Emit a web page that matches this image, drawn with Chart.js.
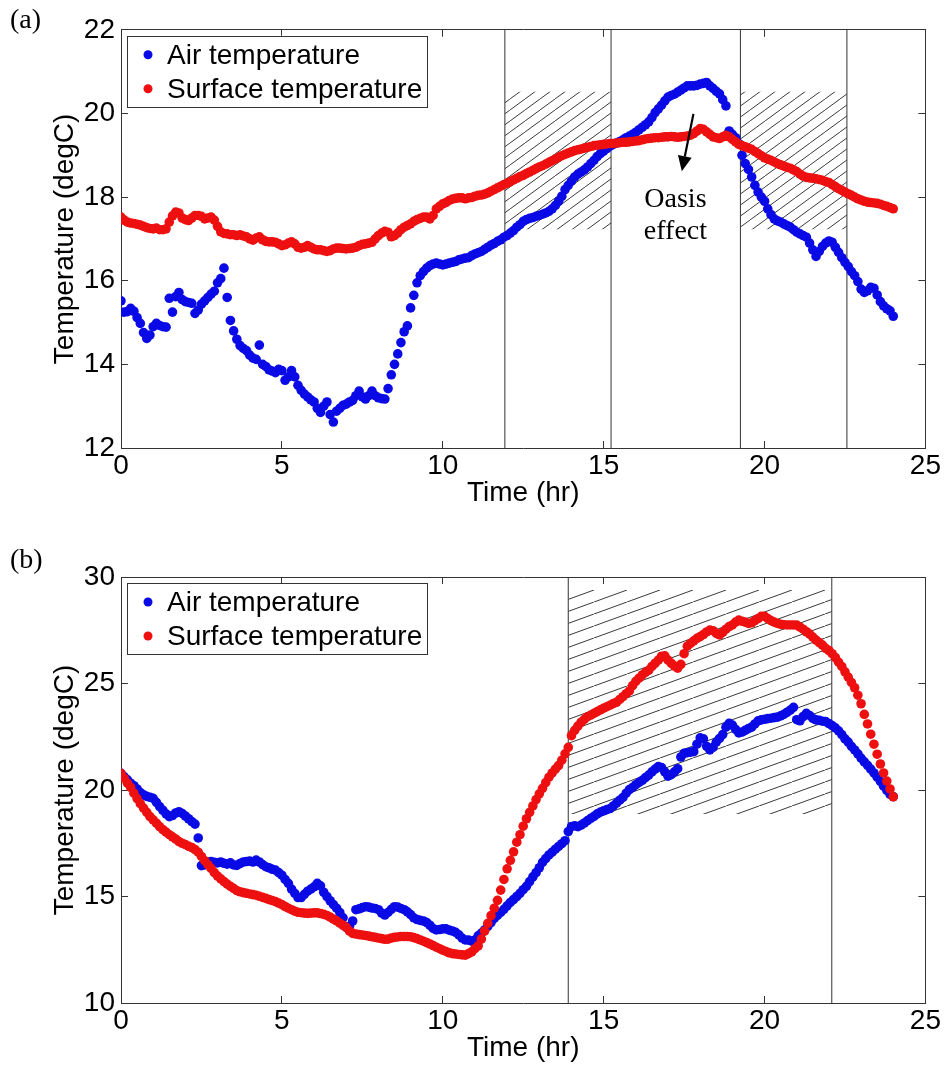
<!DOCTYPE html>
<html lang="en">
<head>
<meta charset="utf-8">
<title>Air and surface temperature</title>
<script src="https://cdn.jsdelivr.net/npm/chart.js@4.4.1/dist/chart.umd.min.js"></script>
<style>
    html, body { margin: 0; padding: 0; background: #fff; overflow: hidden; }
    .panel { position: absolute; left: 0; width: 949px; }
    #panelA { top: 0; height: 530px; }
    #panelB { top: 530px; height: 535px; }
</style>
</head>
<body>
<div class="panel" id="panelA"><canvas id="chartA"></canvas></div>
<div class="panel" id="panelB"><canvas id="chartB"></canvas></div>
<script>
// sample times (hr), shared by both panels
const hours = [
    0, 0.1, 0.2, 0.3, 0.4, 0.5, 0.6, 0.7, 0.8, 0.9,
    1, 1.1, 1.2, 1.3, 1.4, 1.5, 1.6, 1.7, 1.8, 1.9,
    2, 2.1, 2.2, 2.3, 2.4, 2.5, 2.6, 2.7, 2.8, 2.9,
    3, 3.1, 3.2, 3.3, 3.4, 3.5, 3.6, 3.7, 3.8, 3.9,
    4, 4.1, 4.2, 4.3, 4.4, 4.5, 4.6, 4.7, 4.8, 4.9,
    5, 5.1, 5.2, 5.3, 5.4, 5.5, 5.6, 5.7, 5.8, 5.9,
    6, 6.1, 6.2, 6.3, 6.4, 6.5, 6.6, 6.7, 6.8, 6.9,
    7, 7.1, 7.2, 7.3, 7.4, 7.5, 7.6, 7.7, 7.8, 7.9,
    8, 8.1, 8.2, 8.3, 8.4, 8.5, 8.6, 8.7, 8.8, 8.9,
    9, 9.1, 9.2, 9.3, 9.4, 9.5, 9.6, 9.7, 9.8, 9.9,
    10, 10.1, 10.2, 10.3, 10.4, 10.5, 10.6, 10.7, 10.8, 10.9,
    11, 11.1, 11.2, 11.3, 11.4, 11.5, 11.6, 11.7, 11.8, 11.9,
    12, 12.1, 12.2, 12.3, 12.4, 12.5, 12.6, 12.7, 12.8, 12.9,
    13, 13.1, 13.2, 13.3, 13.4, 13.5, 13.6, 13.7, 13.8, 13.9,
    14, 14.1, 14.2, 14.3, 14.4, 14.5, 14.6, 14.7, 14.8, 14.9,
    15, 15.1, 15.2, 15.3, 15.4, 15.5, 15.6, 15.7, 15.8, 15.9,
    16, 16.1, 16.2, 16.3, 16.4, 16.5, 16.6, 16.7, 16.8, 16.9,
    17, 17.1, 17.2, 17.3, 17.4, 17.5, 17.6, 17.7, 17.8, 17.9,
    18, 18.1, 18.2, 18.3, 18.4, 18.5, 18.6, 18.7, 18.8, 18.9,
    19, 19.1, 19.2, 19.3, 19.4, 19.5, 19.6, 19.7, 19.8, 19.9,
    20, 20.1, 20.2, 20.3, 20.4, 20.5, 20.6, 20.7, 20.8, 20.9,
    21, 21.1, 21.2, 21.3, 21.4, 21.5, 21.6, 21.7, 21.8, 21.9,
    22, 22.1, 22.2, 22.3, 22.4, 22.5, 22.6, 22.7, 22.8, 22.9,
    23, 23.1, 23.2, 23.3, 23.4, 23.5, 23.6, 23.7, 23.8, 23.9,
    24
];

// (a)
const airA = [
    15.52, 15.25, 15.26, 15.34, 15.27, 15.12, 14.98, 14.76, 14.62, 14.70,
    14.90, 14.98, 14.93, 14.90, 14.89, 15.58, 15.25, 15.62, 15.72, 15.55,
    15.50, 15.48, 15.46, 15.22, 15.30, 15.44, 15.52, 15.60, 15.68, 15.75,
    15.95, 16.05, 16.30, 15.60, 15.05, 14.80, 14.60, 14.45, 14.38, 14.33,
    14.22, 14.15, 14.12, 14.46, 14.00, 13.95, 13.87, 13.84, 13.80, 13.88,
    13.85, 13.62, 13.70, 13.85, 13.70, 13.50, 13.38, 13.29, 13.22, 13.15,
    13.10, 12.95, 12.85, 13.00, 13.10, 12.80, 12.62, 12.88, 12.95, 13.02,
    13.05, 13.10, 13.14, 13.25, 13.36, 13.22, 13.17, 13.25, 13.36, 13.25,
    13.20, 13.18, 13.17, 13.42, 13.75, 14.00, 14.25, 14.52, 14.78, 14.92,
    15.35, 15.65, 15.95, 16.12, 16.22, 16.30, 16.36, 16.40, 16.42, 16.40,
    16.38, 16.40, 16.42, 16.44, 16.46, 16.50, 16.52, 16.54, 16.55, 16.60,
    16.64, 16.67, 16.70, 16.75, 16.80, 16.85, 16.89, 16.94, 16.98, 17.04,
    17.08, 17.14, 17.20, 17.28, 17.34, 17.42, 17.46, 17.49, 17.51, 17.54,
    17.56, 17.59, 17.62, 17.66, 17.72, 17.80, 17.90, 18.02, 18.18, 18.28,
    18.38, 18.48, 18.55, 18.60, 18.65, 18.72, 18.80, 18.88, 18.97, 19.04,
    19.10, 19.16, 19.22, 19.26, 19.29, 19.33, 19.37, 19.42, 19.46, 19.50,
    19.55, 19.61, 19.67, 19.73, 19.80, 19.90, 20.02, 20.11, 20.20, 20.30,
    20.39, 20.43, 20.46, 20.51, 20.56, 20.61, 20.66, 20.66, 20.66, 20.67,
    20.70, 20.72, 20.74, 20.66, 20.60, 20.53, 20.47, 20.33, 20.18, 19.58,
    19.50, 19.42, 19.28, 19.00, 18.80, 18.66, 18.48, 18.28, 18.12, 18.00,
    17.90, 17.72, 17.58, 17.48, 17.43, 17.40, 17.36, 17.32, 17.28, 17.22,
    17.16, 17.12, 17.08, 17.04, 16.90, 16.74, 16.58, 16.70, 16.82, 16.90,
    16.95, 16.92, 16.80, 16.68, 16.55, 16.44, 16.34, 16.22, 16.12, 15.98,
    15.80, 15.72, 15.76, 15.84, 15.82, 15.66, 15.50, 15.40, 15.33, 15.28,
    15.15
];
const surfaceA = [
    17.52, 17.45, 17.40, 17.38, 17.37, 17.35, 17.33, 17.30, 17.27, 17.25,
    17.24, 17.26, 17.22, 17.22, 17.24, 17.40, 17.55, 17.64, 17.62, 17.50,
    17.46, 17.44, 17.50, 17.56, 17.56, 17.54, 17.48, 17.50, 17.52, 17.45,
    17.30, 17.17, 17.13, 17.12, 17.10, 17.10, 17.08, 17.10, 17.07, 17.05,
    17.00, 16.97, 17.02, 17.05, 16.98, 16.94, 16.93, 16.93, 16.92, 16.88,
    16.84, 16.86, 16.90, 16.93, 16.88, 16.80, 16.78, 16.80, 16.84, 16.80,
    16.76, 16.74, 16.74, 16.72, 16.70, 16.72, 16.76, 16.78, 16.78, 16.77,
    16.76, 16.77, 16.78, 16.80, 16.84, 16.87, 16.88, 16.90, 16.92, 17.00,
    17.08, 17.14, 17.18, 17.16, 17.05, 17.08, 17.14, 17.22, 17.28, 17.32,
    17.36, 17.42, 17.46, 17.49, 17.52, 17.52, 17.48, 17.56, 17.72, 17.78,
    17.84, 17.87, 17.92, 17.95, 17.97, 17.98, 17.98, 17.96, 17.98, 17.99,
    18.02, 18.04, 18.05, 18.07, 18.10, 18.14, 18.18, 18.22, 18.26, 18.30,
    18.33, 18.37, 18.41, 18.45, 18.49, 18.52, 18.56, 18.60, 18.64, 18.68,
    18.72, 18.75, 18.79, 18.83, 18.87, 18.91, 18.95, 18.99, 19.02, 19.05,
    19.08, 19.11, 19.13, 19.15, 19.17, 19.19, 19.21, 19.23, 19.24, 19.25,
    19.26, 19.27, 19.28, 19.28, 19.29, 19.30, 19.31, 19.31, 19.32, 19.33,
    19.34, 19.35, 19.37, 19.39, 19.40, 19.41, 19.42, 19.42, 19.43, 19.44,
    19.44, 19.45, 19.44, 19.43, 19.44, 19.45, 19.46, 19.48, 19.52, 19.58,
    19.64, 19.62, 19.56, 19.50, 19.44, 19.42, 19.40, 19.44, 19.48, 19.44,
    19.38, 19.32, 19.26, 19.23, 19.20, 19.17, 19.14, 19.09, 19.04, 18.99,
    18.94, 18.91, 18.88, 18.84, 18.80, 18.77, 18.74, 18.71, 18.69, 18.65,
    18.61, 18.55, 18.50, 18.47, 18.46, 18.45, 18.44, 18.42, 18.40, 18.37,
    18.35, 18.30, 18.25, 18.20, 18.16, 18.12, 18.08, 18.04, 18.00, 17.96,
    17.93, 17.90, 17.88, 17.87, 17.86, 17.85, 17.83, 17.80, 17.78, 17.75,
    17.72
];

// (b)
const airB = [
    20.78, 20.62, 20.48, 20.32, 20.20, 20.05, 19.88, 19.77, 19.70, 19.66,
    19.61, 19.42, 19.22, 19.05, 18.88, 18.75, 18.80, 18.92, 18.98, 18.90,
    18.78, 18.65, 18.52, 18.40, 17.75, 16.45, 16.48, 16.62, 16.64, 16.60,
    16.58, 16.62, 16.56, 16.52, 16.58, 16.48, 16.46, 16.55, 16.62, 16.64,
    16.66, 16.62, 16.71, 16.62, 16.50, 16.40, 16.35, 16.28, 16.24, 16.12,
    16.00, 15.80, 15.62, 15.35, 15.15, 14.95, 14.95, 15.10, 15.25, 15.35,
    15.45, 15.62, 15.50, 15.20, 15.00, 14.80, 14.62, 14.45, 14.25, 14.00,
    13.55, 13.60, 13.85, 14.38, 14.42, 14.48, 14.52, 14.50, 14.46, 14.44,
    14.38, 14.22, 14.13, 14.25, 14.40, 14.52, 14.50, 14.44, 14.38, 14.28,
    14.15, 14.00, 13.92, 13.88, 13.85, 13.78, 13.65, 13.50, 13.43, 13.45,
    13.48, 13.48, 13.42, 13.38, 13.32, 13.20, 13.05, 12.96, 12.95, 12.90,
    12.96, 13.15, 13.28, 13.43, 13.60, 13.78, 13.97, 14.12, 14.25, 14.40,
    14.56, 14.72, 14.86, 15.00, 15.15, 15.32, 15.48, 15.70, 15.92, 16.12,
    16.35, 16.60, 16.78, 16.95, 17.08, 17.22, 17.35, 17.48, 17.62, 18.05,
    18.28, 18.32, 18.28, 18.35, 18.45, 18.56, 18.67, 18.76, 18.88, 18.96,
    19.02, 19.08, 19.13, 19.25, 19.38, 19.52, 19.65, 19.85, 20.02, 20.12,
    20.25, 20.36, 20.45, 20.58, 20.70, 20.85, 20.98, 21.10, 21.05, 20.85,
    20.65, 20.72, 20.85, 21.00, 21.55, 21.72, 21.75, 21.78, 21.80, 22.15,
    22.45, 22.40, 22.05, 21.88, 22.00, 22.25, 22.42, 22.60, 22.95, 23.13,
    23.05, 22.85, 22.68, 22.72, 22.80, 22.88, 22.95, 23.10, 23.25, 23.29,
    23.32, 23.35, 23.37, 23.40, 23.42, 23.48, 23.55, 23.65, 23.75, 23.88,
    23.30, 23.25, 23.45, 23.60, 23.50, 23.36, 23.29, 23.27, 23.23, 23.21,
    23.12, 23.02, 22.92, 22.78, 22.60, 22.40, 22.25, 22.05, 21.88, 21.70,
    21.50, 21.32, 21.16, 20.98, 20.80, 20.60, 20.40, 20.18, 19.98, 19.80,
    19.69
];
const surfaceB = [
    20.78, 20.55, 20.32, 20.12, 19.85, 19.60, 19.36, 19.15, 18.95, 18.75,
    18.60, 18.44, 18.28, 18.14, 18.02, 17.90, 17.80, 17.70, 17.58, 17.50,
    17.44, 17.36, 17.30, 17.20, 17.08, 16.88, 16.68, 16.50, 16.32, 16.12,
    15.96, 15.83, 15.70, 15.58, 15.48, 15.38, 15.28, 15.22, 15.18, 15.15,
    15.12, 15.09, 15.06, 15.01, 14.96, 14.91, 14.86, 14.81, 14.76, 14.69,
    14.62, 14.53, 14.45, 14.38, 14.31, 14.26, 14.24, 14.22, 14.21, 14.22,
    14.23, 14.23, 14.20, 14.16, 14.11, 14.03, 13.94, 13.86, 13.75, 13.65,
    13.55, 13.38, 13.27, 13.24, 13.21, 13.19, 13.17, 13.14, 13.11, 13.08,
    13.05, 13.02, 12.99, 13.00, 13.05, 13.08, 13.10, 13.12, 13.12, 13.12,
    13.11, 13.07, 13.02, 12.96, 12.90, 12.84, 12.77, 12.70, 12.62, 12.55,
    12.48, 12.42, 12.36, 12.32, 12.30, 12.28, 12.26, 12.25, 12.32, 12.40,
    12.55, 12.68, 13.00, 13.38, 13.74, 14.10, 14.45, 14.82, 15.30, 15.80,
    16.30, 16.70, 17.10, 17.55, 17.90, 18.30, 18.65, 18.95, 19.25, 19.55,
    19.82, 20.08, 20.35, 20.60, 20.80, 20.98, 21.15, 21.40, 21.70, 22.00,
    22.55, 22.80, 23.00, 23.18, 23.32, 23.44, 23.52, 23.60, 23.68, 23.76,
    23.84, 23.91, 23.98, 24.06, 24.12, 24.25, 24.38, 24.52, 24.65, 24.90,
    25.10, 25.25, 25.40, 25.52, 25.62, 25.80, 25.95, 26.10, 26.28, 26.30,
    26.10, 25.95, 25.82, 25.72, 25.90, 26.40, 26.75, 26.88, 27.00, 27.12,
    27.20, 27.30, 27.42, 27.51, 27.48, 27.35, 27.28, 27.40, 27.55, 27.67,
    27.75, 27.88, 27.98, 27.92, 27.88, 27.82, 27.85, 27.95, 28.05, 28.15,
    28.15, 28.05, 27.95, 27.88, 27.82, 27.78, 27.76, 27.75, 27.75, 27.75,
    27.74, 27.65, 27.55, 27.43, 27.32, 27.18, 27.04, 26.92, 26.80, 26.65,
    26.55, 26.40, 26.22, 26.00, 25.80, 25.55, 25.30, 25.05, 24.80, 24.45,
    24.05, 23.55, 23.10, 22.62, 22.15, 21.68, 21.22, 20.80, 20.42, 20.05,
    19.68
];

// ticks
const timeTicks = [0, 5, 10, 15, 20, 25];
const tempTicksA = [12, 14, 16, 18, 20, 22];
const tempTicksB = [10, 15, 20, 25, 30];

// shaded periods: vertical dividers (hr), hatched bands (hr) and their temperature span
const dividersA = [11.93, 15.23, 19.25, 22.56];
const bandsA = [[11.93, 15.23], [19.25, 22.56]];
const bandTempA = [17.23, 20.52];
const dividersB = [13.9, 22.09];
const bandsB = [[13.9, 22.09]];
const bandTempB = [18.87, 29.39];

// "Oasis effect" note in (a): arrow [t0, T0, t1, T1] and text anchor [t, T]
const oasisArrow = [17.79, 19.99, 17.43, 18.62];
const oasisText = [17.23, 17.77];
const oasisLines = ["Oasis", "effect"];

const SANS = "'Liberation Sans', Arial, sans-serif";
const SERIF = "'Liberation Serif', 'Times New Roman', serif";
const AXIS_COLOR = "#333333";
const BLUE = "#0a0ae6";
const RED = "#ee1010";

function hatchPattern(w, h) {
    const tile = document.createElement("canvas");
    tile.width = w;
    tile.height = h;
    const g = tile.getContext("2d");
    g.strokeStyle = "#3a3a3a";
    g.lineWidth = 1;
    [-w, 0, w].forEach(function (dx) {
        g.beginPath();
        g.moveTo(dx, h);
        g.lineTo(dx + w, 0);
        g.stroke();
    });
    return g.createPattern(tile, "repeat");
}

// legend box, panel letter and the arrow note
const panelExtras = {
    id: "panelExtras",
    afterDraw(chart, args, opts) {
        const { ctx, chartArea, scales } = chart;
        ctx.save();

        ctx.font = "28px " + SANS;
        const entries = chart.data.datasets.filter(d => d.inLegend);
        const left = chartArea.left + 6;
        const top = chartArea.top + 6;
        const textX = left + 40;
        const widest = Math.max(...entries.map(d => ctx.measureText(d.label).width));
        const boxW = Math.round(textX + widest + 5 - left);
        ctx.fillStyle = "#fff";
        ctx.fillRect(left, top, boxW, 71);
        ctx.strokeStyle = AXIS_COLOR;
        ctx.lineWidth = 1;
        ctx.strokeRect(Math.round(left) + 0.5, Math.round(top) + 0.5, boxW, 71);
        entries.forEach(function (d, i) {
            const cy = top + 19 + i * 34;
            ctx.fillStyle = d.backgroundColor;
            ctx.beginPath();
            ctx.arc(left + 21, cy, 4.5, 0, Math.PI * 2);
            ctx.fill();
            ctx.fillStyle = "#000";
            ctx.textAlign = "left";
            ctx.textBaseline = "alphabetic";
            ctx.fillText(d.label, textX, cy + 9);
        });

        ctx.font = "28px " + SERIF;
        ctx.fillStyle = "#000";
        ctx.textAlign = "left";
        ctx.fillText(opts.letter, 10, opts.letterY);

        if (opts.arrow) {
            const a = opts.arrow;
            const x0 = scales.x.getPixelForValue(a[0]), y0 = scales.y.getPixelForValue(a[1]);
            const x1 = scales.x.getPixelForValue(a[2]), y1 = scales.y.getPixelForValue(a[3]);
            const ang = Math.atan2(y1 - y0, x1 - x0);
            const bx = x1 - 15 * Math.cos(ang), by = y1 - 15 * Math.sin(ang);
            ctx.strokeStyle = "#000";
            ctx.lineWidth = 2.2;
            ctx.beginPath();
            ctx.moveTo(x0, y0);
            ctx.lineTo(bx, by);
            ctx.stroke();
            ctx.beginPath();
            ctx.moveTo(x1, y1);
            ctx.lineTo(bx + 7 * Math.sin(ang), by - 7 * Math.cos(ang));
            ctx.lineTo(bx - 7 * Math.sin(ang), by + 7 * Math.cos(ang));
            ctx.closePath();
            ctx.fill();

            const tx = scales.x.getPixelForValue(opts.note[0]);
            const ty = scales.y.getPixelForValue(opts.note[1]);
            ctx.textAlign = "center";
            opts.noteLines.forEach(function (line, i) {
                ctx.fillText(line, tx, ty + i * 32);
            });
        }
        ctx.restore();
    }
};

function axis(position, min, max, ticks, size, extra) {
    const horizontal = position === "top" || position === "bottom";
    const showLabels = position === "bottom" || position === "left";
    return Object.assign({
        type: "linear",
        position: position,
        min: min,
        max: max,
        afterBuildTicks: function (scale) {
            scale.ticks = ticks.map(v => ({ value: v }));
        },
        afterFit: function (scale) {
            if (horizontal) scale.height = size; else scale.width = size;
        },
        ticks: {
            display: showLabels,
            color: "#000",
            font: { family: SANS, size: 28 },
            padding: horizontal ? 8 : 13,
            maxRotation: 0,
            autoSkip: false
        },
        grid: { drawOnChartArea: false, tickLength: -7, color: AXIS_COLOR },
        border: { color: AXIS_COLOR, width: 1 }
    }, extra || {});
}

function makePanel(canvasId, p) {
    const datasets = [
        {
            label: "Air temperature",
            inLegend: true,
            data: hours.map((t, i) => ({ x: t, y: p.air[i] })),
            backgroundColor: BLUE,
            pointRadius: 4.8,
            pointHoverRadius: 4.8,
            pointBorderWidth: 0,
            order: 2
        },
        {
            label: "Surface temperature",
            inLegend: true,
            data: hours.map((t, i) => ({ x: t, y: p.surface[i] })),
            backgroundColor: RED,
            pointRadius: 4.8,
            pointHoverRadius: 4.8,
            pointBorderWidth: 0,
            order: 1
        }
    ];

    const pattern = hatchPattern(p.hatch[0], p.hatch[1]);
    p.bands.forEach(function (b) {
        datasets.push({
            type: "line",
            data: [{ x: b[0], y: p.bandTemp[0] }, { x: b[1], y: p.bandTemp[0] }],
            fill: { value: p.bandTemp[1] },
            backgroundColor: pattern,
            borderWidth: 0,
            pointRadius: 0,
            order: 4
        });
    });
    p.dividers.forEach(function (x) {
        datasets.push({
            type: "line",
            data: [{ x: x, y: p.yMin }, { x: x, y: p.yMax }],
            borderColor: AXIS_COLOR,
            borderWidth: 1,
            pointRadius: 0,
            fill: false,
            order: 3
        });
    });

    new Chart(document.getElementById(canvasId), {
        type: "scatter",
        data: { datasets: datasets },
        options: {
            responsive: true,
            maintainAspectRatio: false,
            animation: false,
            events: [],
            layout: { padding: 0 },
            scales: {
                x: axis("bottom", 0, 25, timeTicks, p.xAxisHeight, {
                    title: {
                        display: true,
                        text: "Time (hr)",
                        color: "#000",
                        font: { family: SANS, size: 28 },
                        padding: { top: 0, bottom: p.titlePad }
                    }
                }),
                y: axis("left", p.yMin, p.yMax, p.yTicks, 121, {
                    title: {
                        display: true,
                        text: "Temperature (degC)",
                        color: "#000",
                        font: { family: SANS, size: 28 },
                        padding: { top: 48, bottom: 0 }
                    }
                }),
                x2: axis("top", 0, 25, timeTicks, p.topHeight),
                y2: axis("right", p.yMin, p.yMax, p.yTicks, 19)
            },
            plugins: {
                legend: { display: false },
                tooltip: { enabled: false },
                panelExtras: {
                    letter: p.letter,
                    letterY: p.letterY,
                    arrow: p.arrow,
                    note: p.note,
                    noteLines: p.noteLines
                }
            }
        },
        plugins: [panelExtras]
    });
}

document.addEventListener("DOMContentLoaded", function () {

    makePanel("chartA", {
        air: airA, surface: surfaceA,
        yMin: 12, yMax: 22, yTicks: tempTicksA,
        dividers: dividersA, bands: bandsA, bandTemp: bandTempA,
        hatch: [15, 11],
        topHeight: 23, xAxisHeight: 82, titlePad: 20,
        letter: "(a)", letterY: 28,
        arrow: oasisArrow, note: oasisText, noteLines: oasisLines
    });

    makePanel("chartB", {
        air: airB, surface: surfaceB,
        yMin: 10, yMax: 30, yTicks: tempTicksB,
        dividers: dividersB, bands: bandsB, bandTemp: bandTempB,
        hatch: [33, 12],
        topHeight: 47, xAxisHeight: 62, titlePad: 0,
        letter: "(b)", letterY: 38
    });

});
</script>
</body>
</html>
